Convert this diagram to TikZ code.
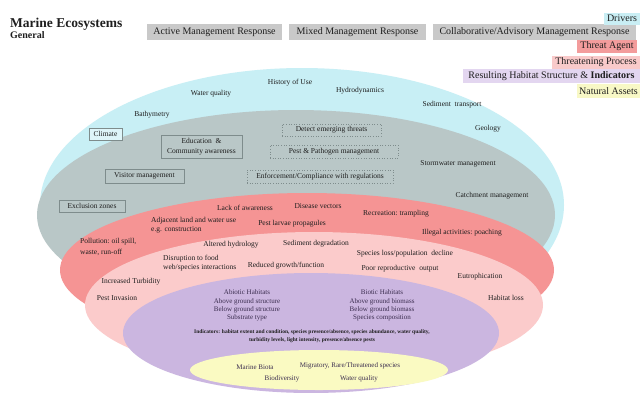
\documentclass[tikz,border=0pt]{standalone}
\usepackage{fontspec}
\setmainfont{Liberation Serif}
\definecolor{cyanE}{HTML}{C8EFF5}
\definecolor{grayE}{HTML}{B9C7C7}
\definecolor{redE}{HTML}{F59494}
\definecolor{pinkE}{HTML}{FBCBCB}
\definecolor{purpE}{HTML}{CBB6E0}
\definecolor{yelE}{HTML}{FAFAC2}
\definecolor{cyanL}{HTML}{C9EEF4}
\definecolor{grayL}{HTML}{C9C9C9}
\definecolor{redL}{HTML}{F39C9C}
\definecolor{pinkL}{HTML}{F9CACA}
\definecolor{purpL}{HTML}{E3D6F0}
\definecolor{yelL}{HTML}{F8F8C6}
\definecolor{txt}{HTML}{1E1E1E}
\definecolor{ptxt}{HTML}{3B2D4F}
\definecolor{boxline}{HTML}{7E8C8C}
\begin{document}
\begin{tikzpicture}[x=1pt,y=-1pt,
  lbl/.style={font=\fontsize{7.5}{9}\selectfont, text=txt, inner sep=0pt},
  plbl/.style={font=\fontsize{7}{8.3}\selectfont, text=ptxt, inner sep=0pt, align=center},
  leg/.style={font=\fontsize{10}{12}\selectfont, text=txt, inner sep=0pt, minimum height=13pt},
  mbox/.style={lbl, draw=boxline, line width=0.6pt, fill=grayE, minimum height=12pt},
  dbox/.style={lbl, draw=boxline, line width=0.6pt, dotted, fill=grayE, minimum height=12pt}]
\useasboundingbox (0,0) rectangle (640,392);
\fill[white] (0,0) rectangle (640,392);
% ellipses
\fill[cyanE] (302,205) ellipse [x radius=262pt, y radius=137pt];
\fill[grayE] (296,215) ellipse [x radius=259pt, y radius=105pt];
\fill[redE] (307,270) ellipse [x radius=247pt, y radius=77pt];
\fill[pinkE] (314,305) ellipse [x radius=229pt, y radius=73pt];
\fill[purpE] (311,333) ellipse [x radius=188pt, y radius=60pt];
\fill[yelE] (319,370) ellipse [x radius=129pt, y radius=20pt];
% title
\node[anchor=base west, inner sep=0pt, font=\fontsize{13.5}{15}\selectfont\bfseries, text=txt] (title) at (10,27) {Marine Ecosystems};
\node[anchor=base west, inner sep=0pt, font=\fontsize{10}{12}\selectfont\bfseries, text=txt] (general) at (10,38) {General};
% legend
\node[leg, fill=grayL, minimum width=135pt, minimum height=16pt] (active) at (214.5,32) {Active Management Response};
\node[leg, fill=grayL, minimum width=137pt, minimum height=16pt] (mixed) at (357.5,32) {Mixed Management Response};
\node[leg, fill=grayL, minimum width=203pt, minimum height=16pt] (collab) at (534.5,32) {Collaborative/Advisory Management Response};
\node[leg, fill=cyanL, minimum width=36pt, minimum height=12pt] (drivers) at (622,18.5) {Drivers};
\node[leg, fill=redL, minimum width=60pt] (threatagent) at (607,46.5) {Threat Agent};
\node[leg, fill=pinkL, minimum width=88pt] (threatproc) at (596,62) {Threatening Process};
\node[leg, fill=purpL, minimum width=177pt, minimum height=14pt] (resulting) at (551.5,76) {Resulting Habitat Structure \& \textbf{Indicators}};
\node[leg, fill=yelL, minimum width=63pt, minimum height=14pt] (natural) at (608.5,91) {Natural Assets};
% drivers
\node[lbl] (wq1) at (211,94) {Water quality};
\node[lbl] (hist) at (290,83) {History of Use};
\node[lbl] (hydro) at (360,91) {Hydrodynamics};
\node[lbl] (bathy) at (152,115) {Bathymetry};
\node[lbl] (sed) at (452,105) {Sediment\ \ transport};
\node[mbox, fill=cyanE!60!white, minimum width=33pt] (climate) at (105.5,134) {Climate};
\node[lbl] (geology) at (488,129) {Geology};
% management
\node[dbox, minimum width=99pt] (detect) at (331.5,130) {Detect emerging threats};
\node[mbox, minimum width=81pt, minimum height=23pt, align=center, font=\fontsize{7.5}{10}\selectfont] (edu) at (201.5,146.5) {Education\ \ \&\\Community awareness};
\node[dbox, minimum width=128pt, minimum height=13pt] (pest) at (334,151.5) {Pest \& Pathogen management};
\node[mbox, minimum width=79pt, minimum height=14pt] (visitor) at (144.5,176) {Visitor management};
\node[dbox, minimum width=146pt, minimum height=13pt] (enforce) at (320,176.5) {Enforcement/Compliance with regulations};
\node[lbl] (storm) at (458,164) {Stormwater management};
\node[lbl] (catch) at (492,196) {Catchment management};
\node[mbox, minimum width=66pt] (excl) at (92,206) {Exclusion zones};
% threat agents
\node[lbl] (lack) at (245,208) {Lack of awareness};
\node[lbl] (disease) at (318,206) {Disease vectors};
\node[lbl] (recre) at (396,214) {Recreation:\ trampling};
\node[lbl, anchor=west, align=left] (adj) at (151,225) {Adjacent land and water use\\e.g. construction};
\node[lbl] (larvae) at (292,224) {Pest larvae propagules};
\node[lbl] (illegal) at (462,233) {Illegal\ activities:\ poaching};
\node[lbl, anchor=west, align=left, font=\fontsize{7.5}{10.5}\selectfont] (pollu) at (80,247) {Pollution:\ oil spill,\\waste,\ run-off};
% threatening processes
\node[lbl] (altered) at (231,245) {Altered hydrology};
\node[lbl] (sedim) at (316,244) {Sediment degradation};
\node[lbl] (species) at (405,254) {Species loss/population\ \ decline};
\node[lbl, anchor=west, align=left, font=\fontsize{7.5}{9.5}\selectfont] (disrupt) at (163,263) {Disruption to food\\web/species interactions};
\node[lbl] (reduced) at (286,266) {Reduced growth/function};
\node[lbl] (poor) at (400,269) {Poor reproductive\ \ output};
\node[lbl] (eutro) at (480,277) {Eutrophication};
\node[lbl] (turb) at (131,282) {Increased Turbidity};
\node[lbl] (invasion) at (117,298) {Pest Invasion};
\node[lbl] (habloss) at (506,298) {Habitat loss};
% habitat structure
\node[plbl] (abiotic) at (247,305.5) {Abiotic Habitats\\Above ground structure\\Below ground structure\\Substrate type};
\node[plbl] (biotic) at (382,305.5) {Biotic Habitats\\Above ground biomass\\Below ground biomass\\Species composition};
\node[inner sep=0pt, align=center, text=txt, font=\fontsize{5.5}{8}\selectfont\bfseries] (indic) at (312,336) {Indicators: habitat extent and condition, species presence/absence, species abundance, water quality,\\turbidity levels, light intensity, presence/absence pests};
% natural assets
\node[plbl] (biota) at (255,367) {Marine Biota};
\node[plbl] (migr) at (350,366) {Migratory, Rare/Threatened species};
\node[plbl] (biodiv) at (282,379) {Biodiversity};
\node[plbl] (wq2) at (359,379) {Water quality};
\end{tikzpicture}
\end{document}
